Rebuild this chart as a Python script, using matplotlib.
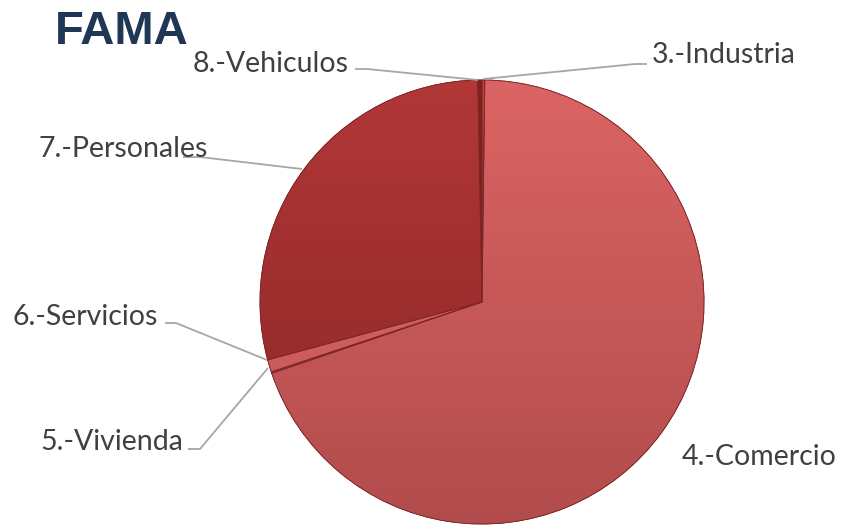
import numpy as np
import matplotlib
matplotlib.use("Agg")
import matplotlib.pyplot as plt
from matplotlib.patches import Wedge
from matplotlib.colors import to_rgb

# slices, clockwise from 12 o'clock
labels = ["3.-Industria", "4.-Comercio", "5.-Vivienda", "6.-Servicios",
          "7.-Personales", "8.-Vehiculos"]
values = [0.2, 69.6, 0.1, 0.9, 28.9, 0.3]
top_colors = ["#BE4646", "#DB6464", "#C84E4E", "#DE6A6A", "#B23737", "#861F1F"]
bottom_colors = ["#A53B3B", "#B24C4C", "#A84040", "#C25555", "#8A2626", "#6A1717"]

# figure pixel coords (y measured from top)
W, H = 842, 529
cx, cy, r = 482, 302, 222

label_pos = {
    "3.-Industria": (652, 63),
    "4.-Comercio": (682, 465),
    "5.-Vivienda": (40, 450),
    "6.-Servicios": (12, 325),
    "7.-Personales": (39, 157),
    "8.-Vehiculos": (193, 72),
}
leaders = {
    "3.-Industria": [(647, 64), (635, 64), (483, 79)],
    "5.-Vivienda": [(188, 449), (200, 449), (268, 368)],
    "6.-Servicios": [(165, 323), (176, 323), (267, 360)],
    "7.-Personales": [(183, 157), (200, 157), (302, 169)],
    "8.-Vehiculos": [(355, 69), (367, 69), (478, 80)],
}


def fy(y):
    return H - y


fig = plt.figure(figsize=(W / 100, H / 100), dpi=100)
ax = fig.add_axes([0, 0, 1, 1])

wedges, _ = ax.pie(values, startangle=90, counterclock=False,
                   center=(cx, fy(cy)), radius=r, colors=top_colors,
                   wedgeprops=dict(edgecolor="#7A2020", linewidth=0.6))

# vertical gradient inside each wedge
for w, c1, c2 in zip(wedges, top_colors, bottom_colors):
    a = np.array(to_rgb(c1))
    b = np.array(to_rgb(c2))
    t = np.linspace(0, 1, 256)[:, None]
    grad = (a * (1 - t) + b * t)[:, None, :]
    im = ax.imshow(grad, extent=(cx - r, cx + r, fy(cy + r), fy(cy - r)),
                   origin="upper", aspect="auto", zorder=w.get_zorder() + 0.1)
    im.set_clip_path(w)

# thin outline on top of the gradients
for w in wedges:
    ax.add_patch(Wedge((cx, fy(cy)), r, w.theta1, w.theta2,
                       facecolor="none", edgecolor="#7E2626",
                       linewidth=0.6, zorder=3))

for name, pts in leaders.items():
    xs = [p[0] for p in pts]
    ys = [fy(p[1]) for p in pts]
    ax.plot(xs, ys, color="#A6A6A6", linewidth=1.3, zorder=4,
            solid_capstyle="butt")

for name, (x, y) in label_pos.items():
    ax.text(x, fy(y), name, fontsize=20.5, family="Lato", color="#404040",
            ha="left", va="baseline", zorder=5)

ax.text(55, fy(44), "FAMA", fontsize=34, family="Liberation Sans",
        fontweight="bold", color="#1F3654", ha="left", va="baseline")

ax.set_xlim(0, W)
ax.set_ylim(0, H)
ax.set_aspect("equal")
ax.axis("off")

fig.savefig("out.png", dpi=100)
